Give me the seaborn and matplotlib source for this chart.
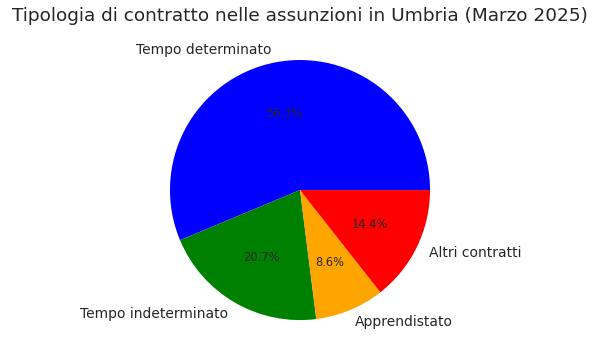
import matplotlib
matplotlib.use("Agg")
import matplotlib.pyplot as plt
import seaborn as sns

# data
tipologie = ["Tempo determinato", "Tempo indeterminato", "Apprendistato", "Altri contratti"]
percentuali = [56.3, 20.7, 8.6, 14.4]
colori = ["blue", "green", "orange", "red"]

sns.set_theme(style="white")

fig = plt.figure(figsize=(6, 3.62), dpi=100)
ax = fig.add_axes([0.2, 0.026, 0.6, 0.898])
wedges, texts, autotexts = ax.pie(percentuali, labels=tipologie, colors=colori,
                                  autopct="%1.1f%%", wedgeprops={"linewidth": 0},
                                  textprops={"fontsize": 10})
for t in autotexts:
    t.set_fontsize(8.3)
ax.set_aspect("equal")
ax.set_title("Tipologia di contratto nelle assunzioni in Umbria (Marzo 2025)",
             fontsize=13.3, pad=5)

fig.savefig("out.png", dpi=100)
